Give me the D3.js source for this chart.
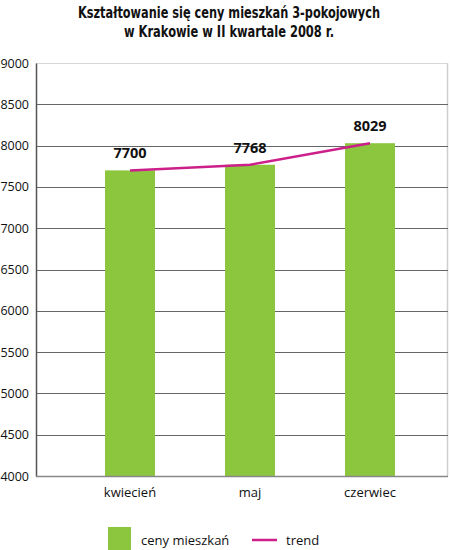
<!DOCTYPE html>
<html><head><meta charset="utf-8">
<script src="https://cdn.jsdelivr.net/npm/d3@7"></script>
<style>body{margin:0;background:#fff}</style>
</head><body>
<svg id="c" width="450" height="550"></svg>
<script>
const categories = ["kwiecień", "maj", "czerwiec"];
const prices = [7700, 7768, 8029];
const trend = [7700, 7768, 8029];
const yTicks = [4000, 4500, 5000, 5500, 6000, 6500, 7000, 7500, 8000, 8500, 9000];
const titleLines = ["Kształtowanie się ceny mieszkań 3-pokojowych", "w Krakowie w II kwartale 2008 r."];
const legendLabels = ["ceny mieszkań", "trend"];

(function () {
const svg = d3.select("#c");
const pLeft = 36, pRight = 448, pTop = 63, pBottom = 476;
const font = "'Open Sans', sans-serif";
const green = "#8cc63f", magenta = "#cc1f8a";

const x = d3.scaleBand().domain(categories).range([105, 395]).paddingInner(70/120).paddingOuter(0);
const y = d3.scaleLinear().domain([4000, 9000]).range([pBottom, pTop]);

// title
svg.append("g").selectAll("text").data(titleLines).join("text")
  .attr("x", 229).attr("y", (d, i) => 18 + i * 19)
  .attr("text-anchor", "middle")
  .attr("font-family", "'DejaVu Sans Condensed', 'DejaVu Sans', sans-serif")
  .attr("font-stretch", "condensed")
  .attr("font-weight", "bold").attr("font-size", 15).attr("fill", "#111")
  .attr("textLength", (d, i) => i === 0 ? 302 : 210)
  .attr("lengthAdjust", "spacingAndGlyphs")
  .text(d => d);

// plot border
svg.append("line").attr("x1", pLeft).attr("x2", pRight).attr("y1", pTop + 0.5).attr("y2", pTop + 0.5).attr("stroke", "#d8d8d8");
svg.append("line").attr("x1", pRight - 0.5).attr("x2", pRight - 0.5).attr("y1", pTop).attr("y2", pBottom).attr("stroke", "#cfcfcf").attr("stroke-width", 1.5);

// gridlines
svg.append("g").selectAll("line").data(yTicks.filter(t => t > 4000 && t < 9000)).join("line")
  .attr("x1", pLeft).attr("x2", pRight)
  .attr("y1", d => Math.round(y(d)) + 0.5).attr("y2", d => Math.round(y(d)) + 0.5)
  .attr("stroke", "#666").attr("stroke-width", 1);

// y axis
const yAxis = svg.append("g").attr("transform", `translate(${pLeft},0)`)
  .call(d3.axisLeft(y).tickValues(yTicks).tickSize(0).tickPadding(7).tickFormat(d3.format("d")));
yAxis.select(".domain").attr("stroke", "#555").attr("stroke-width", 1.5);
yAxis.selectAll("text").attr("font-family", font).attr("font-size", 12.5).attr("fill", "#111");

// bars
svg.append("g").selectAll("rect").data(prices).join("rect")
  .attr("x", (d, i) => x(categories[i]))
  .attr("width", x.bandwidth())
  .attr("y", d => y(d))
  .attr("height", d => pBottom - y(d))
  .attr("fill", green);

// bottom axis
const xAxis = svg.append("g").attr("transform", `translate(0,${pBottom})`)
  .call(d3.axisBottom(x).tickSize(0).tickPadding(12));
xAxis.select(".domain").remove();
svg.append("line").attr("x1", pLeft).attr("x2", pRight).attr("y1", pBottom + 0.5).attr("y2", pBottom + 0.5).attr("stroke", "#888").attr("stroke-width", 1.5);
xAxis.selectAll("text").attr("font-family", font).attr("font-size", 13).attr("fill", "#111");

// trend line
const line = d3.line()
  .x((d, i) => x(categories[i]) + x.bandwidth() / 2)
  .y(d => y(d));
svg.append("path").datum(trend).attr("d", line)
  .attr("fill", "none").attr("stroke", magenta).attr("stroke-width", 2.5);

// value labels
svg.append("g").selectAll("text").data(prices).join("text")
  .attr("x", (d, i) => x(categories[i]) + x.bandwidth() / 2)
  .attr("y", d => y(d) - 12)
  .attr("text-anchor", "middle")
  .attr("font-family", font).attr("font-weight", "bold").attr("font-size", 14.5).attr("fill", "#111")
  .text(d => d);

// legend
const lg = svg.append("g");
lg.append("rect").attr("x", 108).attr("y", 527).attr("width", 23).attr("height", 23).attr("fill", green);
lg.append("text").attr("x", 141).attr("y", 545).attr("font-family", font).attr("font-size", 13).attr("fill", "#111").text(legendLabels[0]);
lg.append("line").attr("x1", 252).attr("x2", 277).attr("y1", 540).attr("y2", 540).attr("stroke", magenta).attr("stroke-width", 2.5);
lg.append("text").attr("x", 286).attr("y", 545).attr("font-family", font).attr("font-size", 13).attr("fill", "#111").text(legendLabels[1]);
})();
</script>
</body></html>
